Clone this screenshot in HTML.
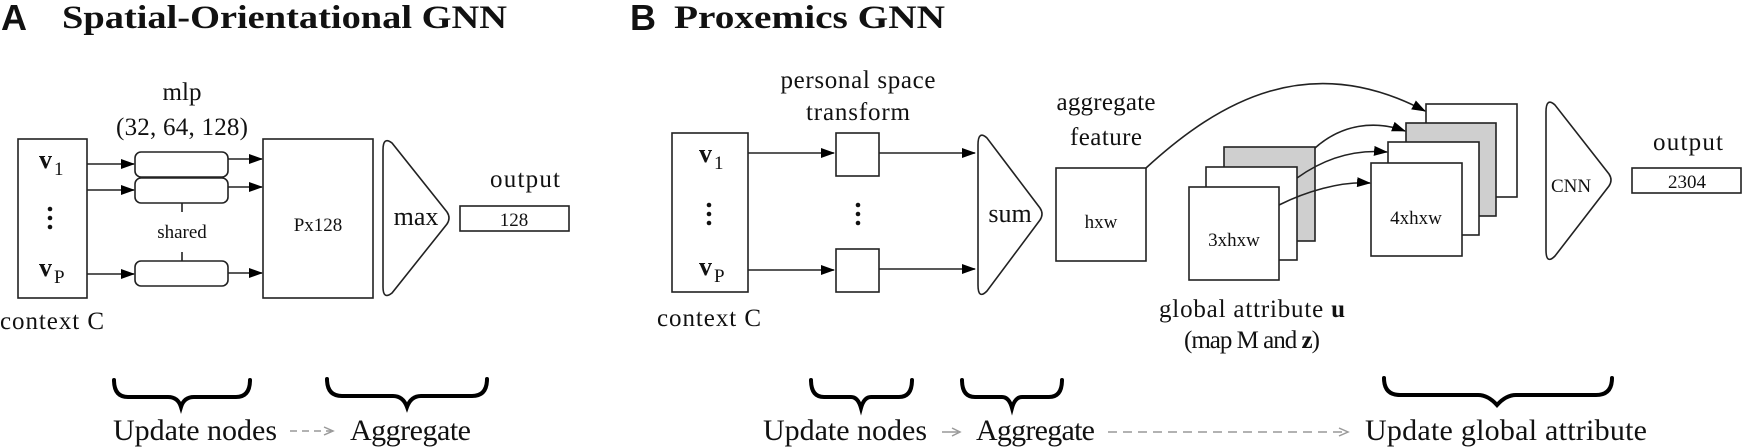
<!DOCTYPE html>
<html><head><meta charset="utf-8"><style>
html,body{margin:0;padding:0;background:#fff;}
svg{display:block;}
text{font-family:"Liberation Serif",serif;fill:#111;}
</style></head><body>
<svg width="1744" height="447" viewBox="0 0 1744 447" xmlns="http://www.w3.org/2000/svg">
<defs>
<marker id="ah" markerWidth="14" markerHeight="10" refX="13" refY="5" orient="auto" markerUnits="userSpaceOnUse">
<path d="M0,0 L14,5 L0,10 Z" fill="#000"/></marker>
</defs>
<g stroke="#222" stroke-width="1.6" fill="none">
<!-- A -->
<rect x="18" y="139" width="69" height="159" fill="#fff"/>
<rect x="135" y="152" width="93" height="25" rx="6"/>
<rect x="135" y="178" width="93" height="25" rx="6"/>
<rect x="135" y="261" width="93" height="25" rx="6"/>
<line x1="182" y1="203" x2="182" y2="212"/>
<line x1="182" y1="252" x2="182" y2="261"/>
<line x1="87" y1="164" x2="134" y2="164" marker-end="url(#ah)"/>
<line x1="87" y1="190" x2="134" y2="190" marker-end="url(#ah)"/>
<line x1="87" y1="274" x2="134" y2="274" marker-end="url(#ah)"/>
<line x1="228" y1="159" x2="262" y2="159" marker-end="url(#ah)"/>
<line x1="228" y1="187" x2="262" y2="187" marker-end="url(#ah)"/>
<line x1="228" y1="273" x2="262" y2="273" marker-end="url(#ah)"/>
<rect x="263" y="139" width="110" height="159"/>
<path d="M383,150 Q383,136 392,143 L447,212 Q451,218 447,224 L392,293 Q383,300 383,287 Z"/>
<rect x="460" y="206" width="109" height="25"/>
<!-- B -->
<rect x="672" y="133" width="76" height="159"/>
<rect x="836" y="133" width="43" height="43"/>
<rect x="836" y="249" width="43" height="43"/>
<line x1="748" y1="153" x2="834" y2="153" marker-end="url(#ah)"/>
<line x1="748" y1="270" x2="834" y2="270" marker-end="url(#ah)"/>
<line x1="879" y1="153" x2="975" y2="153" marker-end="url(#ah)"/>
<line x1="879" y1="269" x2="975" y2="269" marker-end="url(#ah)"/>
<path d="M978,145 Q978,130 987,138 L1040,208 Q1044,214 1040,220 L987,291 Q978,300 978,285 Z"/>
<rect x="1056" y="168" width="90" height="93"/>
<rect x="1224" y="147" width="91" height="94" fill="#cfcfcf"/>
<rect x="1206" y="167" width="91" height="93" fill="#fff"/>
<rect x="1189" y="187" width="90" height="93" fill="#fff"/>
<rect x="1426" y="104" width="91" height="93" fill="#fff"/>
<rect x="1406" y="123" width="90" height="93" fill="#cfcfcf"/>
<rect x="1388" y="142" width="91" height="93" fill="#fff"/>
<rect x="1371" y="163" width="91" height="93" fill="#fff"/>
<path d="M1146,168 C1220,100 1310,50 1425,111" marker-end="url(#ah)"/>
<path d="M1315,148 C1342,124 1375,120 1405,131" marker-end="url(#ah)"/>
<path d="M1297,178 C1322,160 1352,149 1387,152" marker-end="url(#ah)"/>
<path d="M1279,205 C1305,192 1340,181 1370,183" marker-end="url(#ah)"/>
<path d="M1546,112 Q1546,97 1555,105 L1609,174 Q1613,180 1609,186 L1555,256 Q1546,265 1546,250 Z"/>
<rect x="1632" y="168" width="109" height="25"/>
</g>
<!-- braces -->
<g stroke="#000" stroke-width="4" fill="none" stroke-linecap="round">
<path d="M114,380 Q114,397 128,397 L168,397 Q178,397 181,407 Q184,397 194,397 L236,397 Q250,397 250,380"/>
<path d="M327,379 Q327,396 342,396 L393,396 Q403,396 407,407 Q411,396 421,396 L472,396 Q487,396 487,379"/>
<path d="M811,380 Q811,397 824,397 L851,397 Q858,397 861,408 Q864,397 871,397 L899,397 Q912,397 912,380"/>
<path d="M962,380 Q962,397 975,397 L1002,397 Q1009,397 1012,408 Q1015,397 1022,397 L1049,397 Q1062,397 1062,380"/>
<path d="M1384,378 Q1384,395 1400,395 L1478,395 Q1488,395 1497,405 Q1506,395 1516,395 L1596,395 Q1612,395 1612,378"/>
</g>
<!-- gray arrows -->
<g stroke="#999" stroke-width="1.5" fill="none">
<line x1="290" y1="431" x2="331" y2="431" stroke-dasharray="7,5"/>
<path d="M324,427 L333,431 L324,435"/>
<line x1="942" y1="432" x2="958" y2="432"/>
<path d="M952,428 L960,432 L952,436"/>
<line x1="1108" y1="432" x2="1346" y2="432" stroke-dasharray="9,6"/>
<path d="M1339,428 L1348,432 L1339,436"/>
</g>
<!-- titles -->
<text x="1" y="30" style="font-family:'Liberation Sans',sans-serif;font-weight:bold" font-size="36" textLength="32">A</text>
<text x="62" y="28" font-weight="bold" font-size="33" textLength="445" lengthAdjust="spacingAndGlyphs">Spatial-Orientational GNN</text>
<text x="630" y="30" style="font-family:'Liberation Sans',sans-serif;font-weight:bold" font-size="36" textLength="28">B</text>
<text x="674" y="28" font-weight="bold" font-size="33" textLength="271" lengthAdjust="spacingAndGlyphs">Proxemics GNN</text>
<!-- A labels -->
<g font-size="25" text-anchor="middle">
<text x="182" y="100">mlp</text>
<text x="182" y="135" textLength="132">(32, 64, 128)</text>
<text x="525" y="187" textLength="70">output</text>
<text x="416" y="225" font-size="26">max</text>
<text x="52" y="329" textLength="104">context C</text>
<text x="858" y="88" textLength="155">personal space</text>
<text x="858" y="120" textLength="104">transform</text>
<text x="1010" y="222" font-size="26">sum</text>
<text x="709" y="326" textLength="104">context C</text>
<text x="1106" y="110" textLength="99">aggregate</text>
<text x="1106" y="145" textLength="72">feature</text>
<text x="1252" y="317" textLength="186">global attribute <tspan font-weight="bold">u</tspan></text>
<text x="1252" y="348" textLength="136">(map M and <tspan font-weight="bold">z</tspan>)</text>
<text x="1688" y="150" textLength="70">output</text>
</g>
<g font-size="19" text-anchor="middle">
<text x="182" y="238">shared</text>
<text x="318" y="231">Px128</text>
<text x="514" y="226">128</text>
<text x="1101" y="228">hxw</text>
<text x="1234" y="246">3xhxw</text>
<text x="1416" y="224">4xhxw</text>
<text x="1571" y="192">CNN</text>
<text x="1687" y="188">2304</text>
</g>
<!-- v labels -->
<g font-size="26">
<text x="39" y="168" font-weight="bold">v</text><text x="54" y="175" font-size="19">1</text>
<text x="39" y="276" font-weight="bold">v</text><text x="54" y="283" font-size="19">P</text>
<text x="699" y="162" font-weight="bold">v</text><text x="714" y="169" font-size="19">1</text>
<text x="699" y="275" font-weight="bold">v</text><text x="714" y="282" font-size="19">P</text>
</g>
<g fill="#111">
<circle cx="50" cy="209" r="2.3"/><circle cx="50" cy="218" r="2.3"/><circle cx="50" cy="227" r="2.3"/>
<circle cx="709" cy="205" r="2.3"/><circle cx="709" cy="214" r="2.3"/><circle cx="709" cy="223" r="2.3"/>
<circle cx="858" cy="205" r="2.3"/><circle cx="858" cy="214" r="2.3"/><circle cx="858" cy="223" r="2.3"/>
</g>
<!-- bottom labels -->
<g font-size="30">
<text x="113" y="440" textLength="164">Update nodes</text>
<text x="350" y="440" textLength="121">Aggregate</text>
<text x="763" y="440" textLength="164">Update nodes</text>
<text x="976" y="440" textLength="119">Aggregate</text>
<text x="1365" y="440" textLength="282">Update global attribute</text>
</g>
</svg>
</body></html>
